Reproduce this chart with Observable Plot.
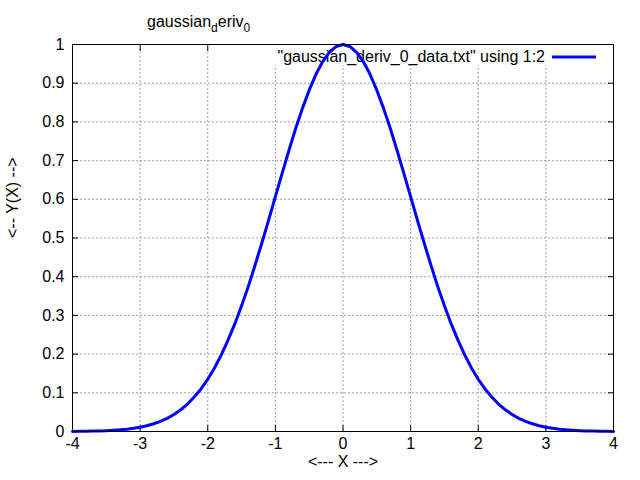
<!DOCTYPE html>
<html>
<head>
<meta charset="utf-8">
<script src="https://cdn.jsdelivr.net/npm/d3@7"></script>
<script src="https://cdn.jsdelivr.net/npm/@observablehq/plot@0.6"></script>
<style>
  html, body { margin: 0; padding: 0; background: #fff; }
</style>
</head>
<body>
<div id="chart"></div>
<script>
const xValues = [-4, -3.9, -3.8, -3.7, -3.6, -3.5, -3.4, -3.3, -3.2, -3.1, -3, -2.9, -2.8, -2.7, -2.6, -2.5, -2.4, -2.3, -2.2, -2.1,
  -2, -1.9, -1.8, -1.7, -1.6, -1.5, -1.4, -1.3, -1.2, -1.1, -1, -0.9, -0.8, -0.7, -0.6, -0.5, -0.4, -0.3, -0.2, -0.1, 0,
  0.1, 0.2, 0.3, 0.4, 0.5, 0.6, 0.7, 0.8, 0.9, 1, 1.1, 1.2, 1.3, 1.4, 1.5, 1.6, 1.7, 1.8, 1.9,
  2, 2.1, 2.2, 2.3, 2.4, 2.5, 2.6, 2.7, 2.8, 2.9, 3, 3.1, 3.2, 3.3, 3.4, 3.5, 3.6, 3.7, 3.8, 3.9, 4];
const yValues = [0.0003, 0.0005, 0.0007, 0.0011, 0.0015, 0.0022, 0.0031, 0.0043, 0.0060, 0.0082, 0.011, 0.015, 0.020, 0.026, 0.034, 0.044, 0.056, 0.071, 0.089, 0.110,
  0.135, 0.164, 0.198, 0.236, 0.278, 0.325, 0.375, 0.430, 0.487, 0.546, 0.607, 0.667, 0.726, 0.783, 0.835, 0.882, 0.923, 0.956, 0.980, 0.995, 1,
  0.995, 0.980, 0.956, 0.923, 0.882, 0.835, 0.783, 0.726, 0.667, 0.607, 0.546, 0.487, 0.430, 0.375, 0.325, 0.278, 0.236, 0.198, 0.164,
  0.135, 0.110, 0.089, 0.071, 0.056, 0.044, 0.034, 0.026, 0.020, 0.015, 0.011, 0.0082, 0.0060, 0.0043, 0.0031, 0.0022, 0.0015, 0.0011, 0.0007, 0.0005, 0.0003];
const xTicks = [-4, -3, -2, -1, 0, 1, 2, 3, 4];
const yTicks = [0, 0.1, 0.2, 0.3, 0.4, 0.5, 0.6, 0.7, 0.8, 0.9, 1];
const titleParts = [["gaussian", false], ["d", true], ["eriv", false], ["0", true]];
const legendLabel = "\"gaussian_deriv_0_data.txt\" using 1:2";
const xLabel = "<--- X --->";
const yLabel = "<-- Y(X) -->";

const data = xValues.map((x, i) => ({x, y: yValues[i]}));
const blank = () => "";

const svg = Plot.plot({
  width: 640,
  height: 480,
  marginLeft: 72,
  marginRight: 27,
  marginTop: 44,
  marginBottom: 49,
  style: {fontFamily: "'Liberation Sans', Arial, sans-serif", fontSize: "16px", background: "#fff", color: "#000"},
  x: {domain: [-4, 4]},
  y: {domain: [0, 1]},
  marks: [
    Plot.gridX(xTicks, {stroke: "#a0a0a0", strokeOpacity: 1, strokeDasharray: "2,2"}),
    Plot.gridY(yTicks, {stroke: "#a0a0a0", strokeOpacity: 1, strokeDasharray: "2,2"}),
    Plot.axisX(xTicks, {anchor: "bottom", tickSize: 0, tickPadding: 6, label: null, tickFormat: d => String(d)}),
    Plot.axisY(yTicks, {anchor: "left", tickSize: 0, tickPadding: 8, label: null, tickFormat: d => String(d)}),
    Plot.axisX(xTicks, {anchor: "bottom", tickSize: -6, tickFormat: blank, label: null}),
    Plot.axisX(xTicks, {anchor: "top", tickSize: -6, tickFormat: blank, label: null}),
    Plot.axisY(yTicks, {anchor: "left", tickSize: -6, tickFormat: blank, label: null}),
    Plot.axisY(yTicks, {anchor: "right", tickSize: -6, tickFormat: blank, label: null}),
    Plot.text([xLabel], {frameAnchor: "bottom", dy: 35, text: d => d, fontSize: 16}),
    Plot.text([yLabel], {frameAnchor: "left", dx: -60, rotate: -90, text: d => d, fontSize: 16}),
    Plot.line(data, {x: "x", y: "y", stroke: "#0000ff", strokeWidth: 3, curve: "linear"}),
    Plot.frame({stroke: "#000", strokeWidth: 1})
  ]
});

document.getElementById("chart").appendChild(svg);

// Legend (white box behind, text and sample line), inserted beneath the curve
const s = d3.select(svg);
const lineG = svg.querySelector('[aria-label="line"]');
const legendG = document.createElementNS("http://www.w3.org/2000/svg", "g");
svg.insertBefore(legendG, lineG);
const lg = d3.select(legendG);
lg.append("rect").attr("x", 273).attr("y", 45).attr("width", 339).attr("height", 20).attr("fill", "#fff");
lg.append("text").attr("x", 545).attr("y", 62).attr("text-anchor", "end")
  .attr("font-size", 16).text(legendLabel);
s.append("line").attr("x1", 552).attr("x2", 596).attr("y1", 57).attr("y2", 57)
  .attr("stroke", "#0000ff").attr("stroke-width", 3);

// Title with subscripts
const t = s.append("text").attr("x", 147).attr("y", 27).attr("font-size", 16).attr("text-anchor", "start");
titleParts.forEach(([str, sub], i) => {
  const prevSub = i > 0 && titleParts[i - 1][1];
  const ts = t.append("tspan").text(str);
  if (sub) ts.attr("dy", 5).attr("font-size", 12);
  else if (prevSub) ts.attr("dy", -5);
});
</script>
</body>
</html>
